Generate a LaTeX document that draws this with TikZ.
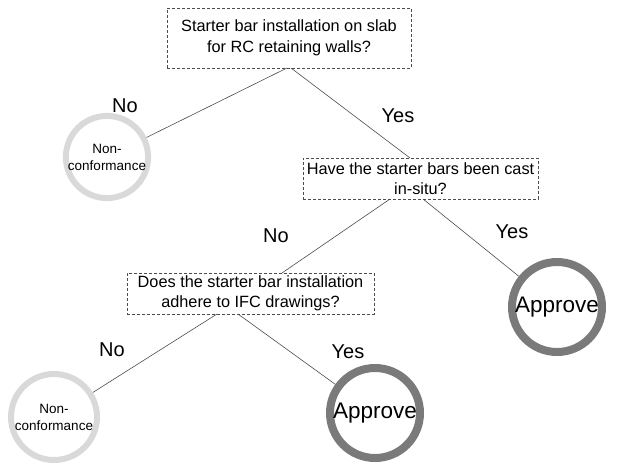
\documentclass[tikz,border=0pt]{standalone}
\usepackage{fontspec}
\setmainfont{Liberation Sans}
\begin{document}
\begin{tikzpicture}[x=1pt,y=-1pt,
  qbox/.style={draw=black!70, densely dashed, line width=0.6pt, rectangle, align=center,
    font=\fontsize{16.3}{20.5}\selectfont, inner sep=0pt},
  ncirc/.style={circle, draw=black!15, line width=6pt, align=center, inner sep=0pt,
    font=\fontsize{13.5}{17}\selectfont},
  apcirc/.style={circle, draw=black!52, line width=8pt, inner sep=0pt,
    font=\fontsize{22.5}{26}\selectfont},
  lbl/.style={font=\fontsize{20}{24}\selectfont, inner sep=0pt},
  conn/.style={draw=black!70, line width=0.6pt}]
\useasboundingbox (0,0) rectangle (618,464);
\node[qbox, minimum width=244pt, minimum height=60pt] (b1) at (289,38)
  {Starter bar installation on slab\\for RC retaining walls?};
\node[qbox, minimum width=235pt, minimum height=41pt] (b2) at (420.5,178.5)
  {Have the starter bars been cast\\in-situ?};
\node[qbox, minimum width=247pt, minimum height=41pt] (b3) at (250.5,293.5)
  {Does the starter bar installation\\adhere to IFC drawings?};
\node[ncirc, minimum size=74pt] (c1) at (107,157) {Non-\\conformance};
\node[apcirc, minimum size=90pt] (c2) at (557,307) {Approve};
\node[ncirc, minimum size=86pt] (c3) at (54,417) {Non-\\conformance};
\node[apcirc, minimum size=90pt] (c4) at (375,413) {Approve};
\node[lbl] (l1) at (125,106) {No};
\node[lbl] (l2) at (398,116) {Yes};
\node[lbl] (l3) at (276,236) {No};
\node[lbl] (l4) at (512,232) {Yes};
\node[lbl] (l5) at (112,350) {No};
\node[lbl] (l6) at (348,352) {Yes};
\coordinate (s1) at (287,68);
\coordinate (s2) at (291,68);
\coordinate (s3) at (390,199);
\coordinate (s4) at (423,199);
\coordinate (s5) at (217,314);
\coordinate (s6) at (238,314);
\coordinate (e2) at (410,158);
\coordinate (e3) at (282,273);
\draw[conn] (s1) -- (c1);
\draw[conn] (s2) -- (e2);
\draw[conn] (s3) -- (e3);
\draw[conn] (s4) -- (c2);
\draw[conn] (s5) -- (c3);
\draw[conn] (s6) -- (c4);
\end{tikzpicture}
\end{document}
